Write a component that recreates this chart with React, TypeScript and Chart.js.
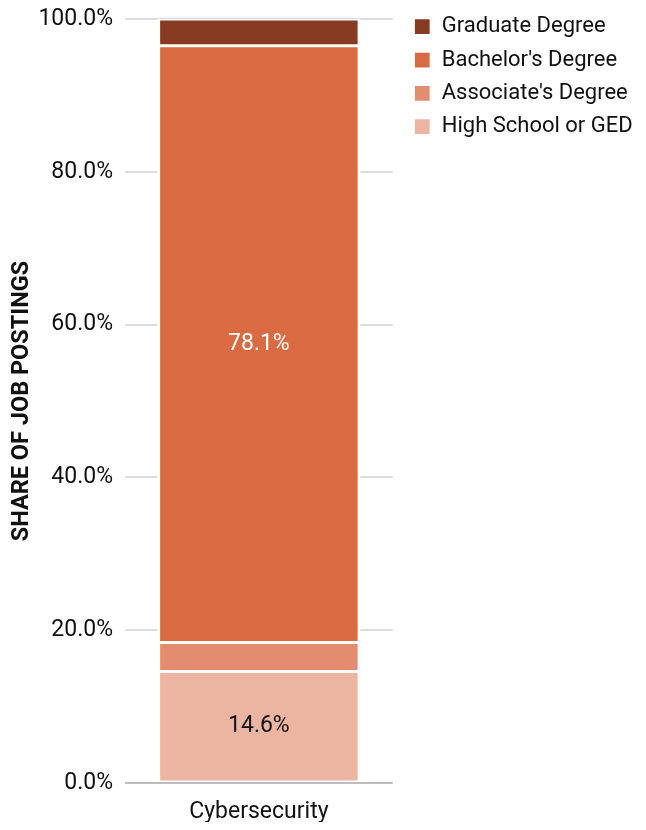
import React, { useEffect, useRef } from "react";
import { Chart, registerables } from "chart.js";

Chart.register(...registerables);

const categories = ["Cybersecurity"];
const seriesNames = ["High School or GED", "Associate's Degree", "Bachelor's Degree", "Graduate Degree"];
const highSchool = [14.6];
const associate = [3.8];
const bachelor = [78.1];
const graduate = [3.5];
const seriesColors = ["#ebb5a2", "#e38c6f", "#d96a42", "#873b23"];
const labelColors = ["#111111", "#111111", "#ffffff", "#ffffff"];
const yTicks = [0, 20, 40, 60, 80, 100];

const FONT = "Roboto, 'Noto Sans', sans-serif";

const valueLabels = {
  id: "valueLabels",
  afterDatasetsDraw(chart: any) {
    const ctx = chart.ctx;
    ctx.save();
    ctx.font = `23px ${FONT}`;
    ctx.textAlign = "center";
    ctx.textBaseline = "middle";
    chart.data.datasets.forEach((ds: any, i: number) => {
      const meta = chart.getDatasetMeta(i);
      meta.data.forEach((el: any, j: number) => {
        const v = ds.data[j];
        if (v < 10) return;
        const p = el.getProps(["x", "y", "base"], true);
        ctx.fillStyle = labelColors[i];
        ctx.fillText(v.toFixed(1) + "%", p.x, (p.y + p.base) / 2);
      });
    });
    ctx.restore();
  },
};

const legendShift = {
  id: "legendShift",
  afterLayout(chart: any) {
    const lg = chart.legend;
    if (!lg) return;
    const pad = lg.options.labels.padding;
    lg.left = chart.chartArea.right + 21 - pad;
    lg.top = 18.7 - pad - 11;
  },
};

export default function App() {
  const ref = useRef<HTMLCanvasElement>(null);
  useEffect(() => {
    if (!ref.current) return;
    const values = [highSchool, associate, bachelor, graduate];
    const chart = new Chart(ref.current, {
      type: "bar",
      data: {
        labels: categories,
        datasets: values.map((d, i) => ({
          label: seriesNames[i],
          data: d,
          backgroundColor: seriesColors[i],
          borderColor: "#ffffff",
          borderWidth: { left: 3, right: 3, top: 1.5, bottom: 1.5 },
          borderSkipped: false,
          barPercentage: 0.76,
          categoryPercentage: 1,
        })),
      },
      options: {
        responsive: false,
        animation: false,
        layout: { padding: { right: 5 } },
        scales: {
          x: {
            stacked: true,
            grid: { display: false, drawTicks: false },
            border: { display: false },
            ticks: { font: { family: FONT, size: 23 }, color: "#111", padding: 15.5 },
            afterFit: (s: any) => {
              s.height = 39;
            },
          },
          y: {
            stacked: true,
            min: 0,
            max: 100,
            afterBuildTicks: (axis: any) => {
              axis.ticks = yTicks.map((v) => ({ value: v }));
            },
            grid: {
              drawTicks: false,
              lineWidth: 2,
              color: (c: any) => (c.tick && c.tick.value === 0 ? "#bdbdbd" : "#dcdcdc"),
            },
            border: { display: false },
            ticks: {
              font: { family: FONT, size: 23 },
              color: "#111",
              padding: 12,
              callback: (v: any) => Number(v).toFixed(1) + "%",
            },
            title: {
              display: true,
              text: "SHARE OF JOB POSTINGS",
              font: { family: FONT, size: 23.5, weight: "bold" },
              color: "#111",
              padding: { top: 0, bottom: 0 },
            },
            afterFit: (s: any) => {
              s.width = 117;
              s.paddingTop = 11;
              s.paddingBottom = 0;
            },
          },
        },
        plugins: {
          legend: {
            position: "right",
            align: "start",
            reverse: true,
            maxWidth: 246,
            labels: {
              font: { family: FONT, size: 22 },
              color: "#111",
              boxWidth: 17,
              boxHeight: 17,
              padding: 11.3,
            },
          },
          tooltip: { enabled: false },
        },
      },
      plugins: [valueLabels, legendShift],
    });
    return () => chart.destroy();
  }, []);
  return <canvas ref={ref} width={630} height={814} style={{ display: "block" }} />;
}
